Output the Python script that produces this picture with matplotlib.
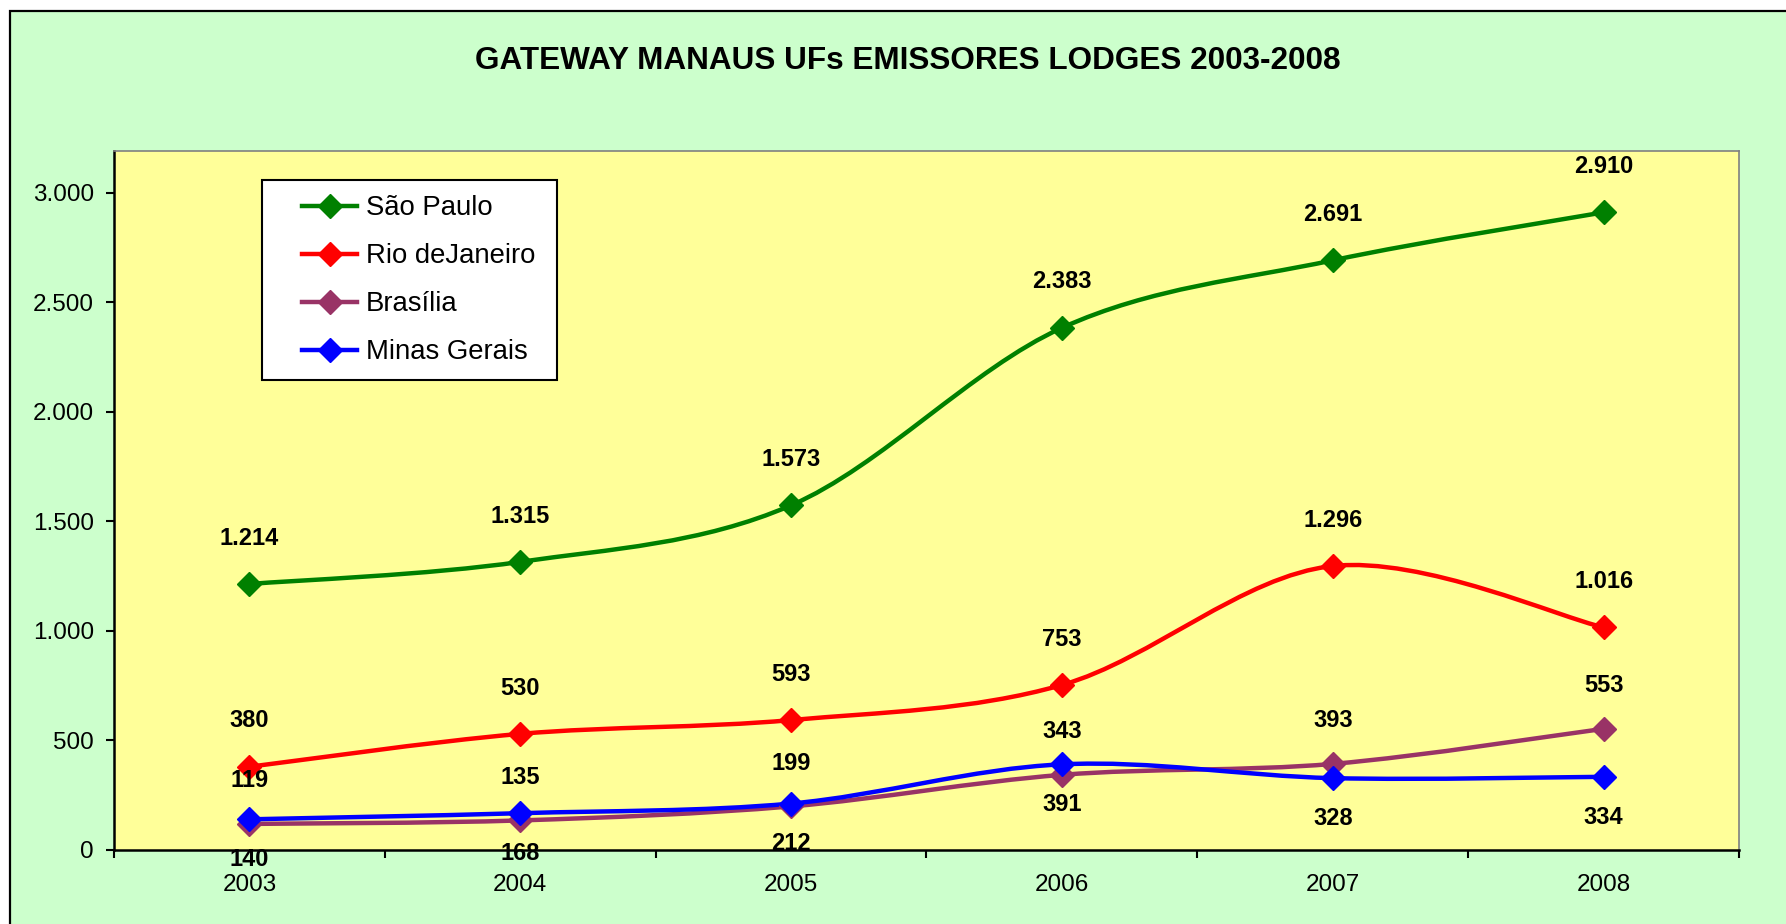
import matplotlib
matplotlib.use("Agg")
import matplotlib.pyplot as plt
from matplotlib.path import Path
from matplotlib.patches import PathPatch, Rectangle
from matplotlib.lines import Line2D

plt.rcParams['font.family'] = ['Liberation Sans', 'DejaVu Sans']

years = ['2003', '2004', '2005', '2006', '2007', '2008']
sao_paulo = [1214, 1315, 1573, 2383, 2691, 2910]
rio = [380, 530, 593, 753, 1296, 1016]
brasilia = [119, 135, 199, 343, 393, 553]
minas = [140, 168, 212, 391, 328, 334]
series_names = ['São Paulo', 'Rio deJaneiro', 'Brasília', 'Minas Gerais']
colors = ['#008000', '#FF0000', '#993366', '#0000FF']
title = 'GATEWAY MANAUS UFs EMISSORES LODGES 2003-2008'

W, H = 1786, 924


def smooth_path(xs, ys):
    # cubic bezier through every point (excel style "smoothed line")
    n = len(xs)
    verts = [(xs[0], ys[0])]
    codes = [Path.MOVETO]
    for i in range(n - 1):
        a = i - 1 if i > 0 else i
        b = i + 2 if i + 2 < n else i + 1
        c1 = (xs[i] + (xs[i + 1] - xs[a]) / 6, ys[i] + (ys[i + 1] - ys[a]) / 6)
        c2 = (xs[i + 1] - (xs[b] - xs[i]) / 6, ys[i + 1] - (ys[b] - ys[i]) / 6)
        verts += [c1, c2, (xs[i + 1], ys[i + 1])]
        codes += [Path.CURVE4] * 3
    return Path(verts, codes)


def fmt(v):
    return f"{v:,}".replace(',', '.')


fig = plt.figure(figsize=(W / 100, H / 100), dpi=100, facecolor='white')

# chart area (green, framed)
fig.patches.append(Rectangle((10 / W, -0.1), 1.2, 1.1 - 11 / H,
                             transform=fig.transFigure, facecolor='#CCFFCC',
                             edgecolor='black', linewidth=1.6, zorder=-1))

ax = fig.add_axes([114 / W, (H - 850) / H, (1739 - 114) / W, (850 - 151) / H])
ax.set_facecolor('#FFFF99')

x = list(range(len(years)))
data = [sao_paulo, rio, brasilia, minas]
for vals, c in zip(data, colors):
    ax.add_patch(PathPatch(smooth_path(x, vals), facecolor='none', edgecolor=c,
                           linewidth=3.2, capstyle='round', joinstyle='round', zorder=3))
    ax.plot(x, vals, linestyle='none', marker='D', markersize=12, color=c,
            markeredgecolor=c, zorder=4)

# value labels: above for the first three series, below for Minas Gerais
offsets = [33, 33, 31, -29]
for vals, off in zip(data, offsets):
    for xi, v in zip(x, vals):
        ax.annotate(fmt(v), (xi, v), xytext=(0, off), textcoords='offset points',
                    ha='center', va='center', fontsize=17, fontweight='bold',
                    color='black', zorder=5, annotation_clip=False)

ax.set_xlim(-0.5, len(years) - 0.5)
ax.set_ylim(0, 3190)
ax.set_yticks(range(0, 3001, 500))
ax.set_yticklabels([fmt(v) for v in range(0, 3001, 500)])
ax.tick_params(axis='y', direction='out', length=6, width=1.5, pad=8.5, labelsize=17.5)

ax.set_xticks([i - 0.5 for i in range(len(years) + 1)])
ax.set_xticklabels([])
ax.set_xticks(x, minor=True)
ax.set_xticklabels(years, minor=True)
ax.tick_params(axis='x', which='major', direction='out', length=6, width=1.5)
ax.tick_params(axis='x', which='minor', length=0, pad=17, labelsize=17.5)

for s in ['left', 'bottom']:
    ax.spines[s].set_color('black')
    ax.spines[s].set_linewidth(1.8)
for s in ['top', 'right']:
    ax.spines[s].set_color('#808080')
    ax.spines[s].set_linewidth(1.2)

# legend box
fig.patches.append(Rectangle((262 / W, 1 - 380 / H), (557 - 262) / W, 200 / H,
                             transform=fig.transFigure, facecolor='white',
                             edgecolor='black', linewidth=1.5, zorder=5))
handles = [Line2D([], [], color=c, linewidth=3.2, marker='D', markersize=12)
           for c in colors]
leg = fig.legend(handles, series_names, loc='upper left',
                 bbox_to_anchor=(283 / W, 1 - 176 / H), frameon=False,
                 fontsize=19.8, handlelength=2.0, handletextpad=0.32,
                 labelspacing=0.8, borderpad=0.2)
leg.set_zorder(6)

fig.text(908 / W, 1 - 61 / H, title, ha='center', va='center',
         fontsize=22.7, fontweight='bold')

fig.savefig('out.png', dpi=100, facecolor=fig.get_facecolor())
